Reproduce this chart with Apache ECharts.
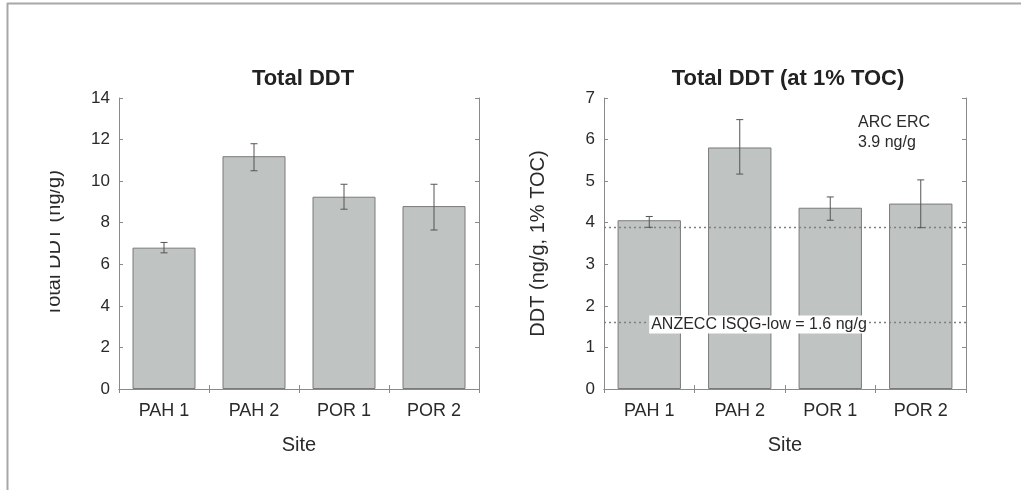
<!DOCTYPE html>
<html>
<head>
<meta charset="utf-8">
<script src="https://cdn.jsdelivr.net/npm/echarts@6/dist/echarts.min.js"></script>
<style>
html,body{margin:0;padding:0;background:#fff;}
#c{width:1021px;height:490px;}
</style>
</head>
<body>
<div id="c"></div>
<script>
// ---- data ----
var sites = ['PAH 1', 'PAH 2', 'POR 1', 'POR 2'];
var totalMean = [6.8, 11.2, 9.25, 8.8];
var totalLow = [6.55, 10.5, 8.65, 7.65];
var totalHigh = [7.05, 11.8, 9.85, 9.85];
var tocMean = [4.06, 5.81, 4.36, 4.46];
var tocLow = [3.89, 5.17, 4.06, 3.88];
var tocHigh = [4.15, 6.48, 4.62, 5.03];
var guideValues = [3.9, 1.6];
var leftTicks = [0, 14, 2];   // min, max, interval
var rightTicks = [0, 7, 1];

var FONT = 'Liberation Sans, Arial, sans-serif';
var TXT = '#2a2a2a';
var AX = '#8a8a8a';
var BAR = '#bfc3c2';
var BAR_EDGE = '#7a7a7a';

var chart = echarts.init(document.getElementById('c'), null, {renderer: 'canvas'});

function errItem() {
  return function (params, api) {
    var i = api.value(0);
    var top = api.coord([i, api.value(2)]);
    var bot = api.coord([i, api.value(1)]);
    var hw = 3.5;
    var st = {stroke: '#555', lineWidth: 1};
    return {
      type: 'group',
      children: [
        {type: 'line', shape: {x1: top[0], y1: top[1], x2: bot[0], y2: bot[1]}, style: st},
        {type: 'line', shape: {x1: top[0] - hw, y1: top[1], x2: top[0] + hw, y2: top[1]}, style: st},
        {type: 'line', shape: {x1: bot[0] - hw, y1: bot[1], x2: bot[0] + hw, y2: bot[1]}, style: st}
      ]
    };
  };
}

function errData(lows, highs) {
  return sites.map(function (s, i) { return [i, lows[i], highs[i]]; });
}

function xAxes(gridIndex) {
  return [
    {
      type: 'category', data: sites, gridIndex: gridIndex, position: 'bottom',
      name: 'Site', nameLocation: 'middle', nameGap: 46,
      nameTextStyle: {fontFamily: FONT, fontSize: 20, color: TXT},
      axisLine: {lineStyle: {color: AX, width: 1}},
      axisTick: {show: true, inside: true, length: 4, alignWithLabel: false, lineStyle: {color: AX}},
      axisLabel: {fontFamily: FONT, fontSize: 18, color: TXT, margin: 13},
      splitLine: {show: false}
    },
    {
      type: 'category', data: sites, gridIndex: gridIndex, position: 'top',
      axisLine: {lineStyle: {color: AX, width: 1}},
      axisTick: {show: true, inside: true, length: 4, alignWithLabel: false, lineStyle: {color: AX}},
      axisLabel: {show: false},
      splitLine: {show: false}
    }
  ];
}

function yAxes(gridIndex, ticks, name, gap) {
  return [
    {
      type: 'value', gridIndex: gridIndex, position: 'left',
      min: ticks[0], max: ticks[1], interval: ticks[2],
      name: name, nameLocation: 'middle', nameGap: gap,
      nameTextStyle: {fontFamily: FONT, fontSize: 20, color: TXT},
      axisLine: {show: true, lineStyle: {color: AX, width: 1}},
      axisTick: {show: true, inside: true, length: 4, lineStyle: {color: AX}},
      axisLabel: {fontFamily: FONT, fontSize: 17, color: TXT, margin: 9},
      splitLine: {show: false}
    },
    {
      type: 'value', gridIndex: gridIndex, position: 'right',
      min: ticks[0], max: ticks[1], interval: ticks[2],
      axisLine: {show: true, lineStyle: {color: AX, width: 1}},
      axisTick: {show: true, inside: true, length: 4, lineStyle: {color: AX}},
      axisLabel: {show: false},
      splitLine: {show: false}
    }
  ];
}

var guideLine = {type: [2, 3], color: '#7f7f7f', width: 1.3};

var option = {
  animation: false,
  backgroundColor: '#fff',
  textStyle: {fontFamily: FONT},
  title: [
    {text: 'Total DDT', left: 298, top: 63, textAlign: 'center',
     textStyle: {fontFamily: FONT, fontSize: 22, fontWeight: 'bold', color: '#222'}},
    {text: 'Total DDT (at 1% TOC)', left: 783, top: 63, textAlign: 'center',
     textStyle: {fontFamily: FONT, fontSize: 22, fontWeight: 'bold', color: '#222'}}
  ],
  grid: [
    {left: 119, top: 98, width: 360, height: 291},
    {left: 604, top: 98, width: 362, height: 291}
  ],
  xAxis: xAxes(0).concat(xAxes(1)),
  yAxis: yAxes(0, leftTicks, 'Total DDT (ng/g)', 55).concat(yAxes(1, rightTicks, 'DDT (ng/g, 1% TOC)', 56)),
  series: [
    {
      type: 'bar', xAxisIndex: 0, yAxisIndex: 0, data: totalMean,
      barCategoryGap: '30%',
      itemStyle: {color: BAR, borderColor: BAR_EDGE, borderWidth: 1}
    },
    {
      type: 'custom', xAxisIndex: 0, yAxisIndex: 0,
      renderItem: errItem(), data: errData(totalLow, totalHigh), z: 5
    },
    {
      type: 'bar', xAxisIndex: 2, yAxisIndex: 2, data: tocMean,
      barCategoryGap: '30%',
      itemStyle: {color: BAR, borderColor: BAR_EDGE, borderWidth: 1},
      markLine: {
        silent: true, symbol: ['none', 'none'], z: 4,
        lineStyle: guideLine,
        data: [
          {yAxis: guideValues[0], label: {show: false}},
          {yAxis: guideValues[1],
           label: {show: true, position: 'middle', formatter: 'ANZECC ISQG-low = 1.6 ng/g',
                   fontFamily: FONT, fontSize: 16, color: TXT,
                   backgroundColor: '#fff', padding: [1, 2, 1, 2], offset: [-26, 16]}}
        ]
      }
    },
    {
      type: 'custom', xAxisIndex: 2, yAxisIndex: 2,
      renderItem: errItem(), data: errData(tocLow, tocHigh), z: 5
    }
  ],
  graphic: [
    {type: 'text', left: 858, top: 113, z: 10,
     style: {text: 'ARC ERC\n3.9 ng/g', fontFamily: FONT, fontSize: 16, lineHeight: 20, fill: TXT}},
    // frame lines of the original figure
    {type: 'line', shape: {x1: 7, y1: 3.5, x2: 1021, y2: 3.5}, style: {stroke: '#a8a8a8', lineWidth: 2}, z: 10},
    {type: 'line', shape: {x1: 7.5, y1: 3, x2: 7.5, y2: 490}, style: {stroke: '#a8a8a8', lineWidth: 2}, z: 10},
    // clip of the left axis name as in the source image
    {type: 'rect', shape: {x: 9, y: 140, width: 41, height: 190}, style: {fill: '#fff'}, z: 100}
  ]
};

chart.setOption(option);
</script>
</body>
</html>
